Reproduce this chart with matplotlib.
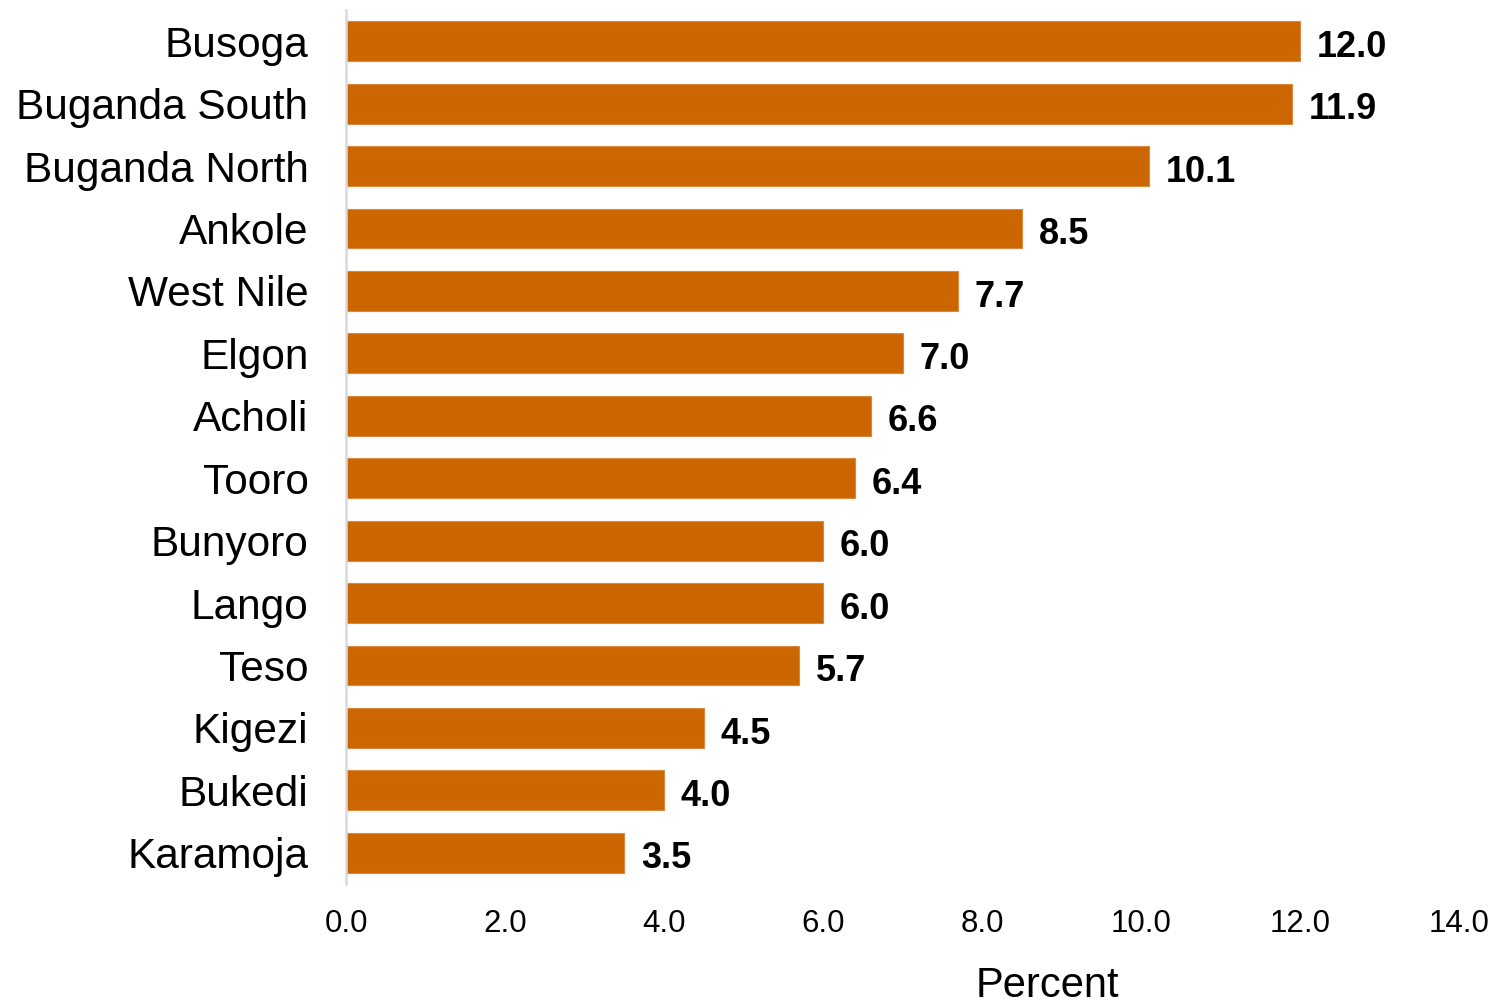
import matplotlib
matplotlib.use("Agg")
import matplotlib.pyplot as plt
import numpy as np

plt.rcParams['font.family'] = ['Liberation Sans', 'DejaVu Sans']

regions = ['Busoga', 'Buganda South', 'Buganda North', 'Ankole', 'West Nile',
           'Elgon', 'Acholi', 'Tooro', 'Bunyoro', 'Lango', 'Teso', 'Kigezi',
           'Bukedi', 'Karamoja']
values = [12.0, 11.9, 10.1, 8.5, 7.7, 7.0, 6.6, 6.4, 6.0, 6.0, 5.7, 4.5, 4.0, 3.5]
xticks = [0, 2, 4, 6, 8, 10, 12, 14]

fig = plt.figure(figsize=(14.94, 10.06), dpi=100)
ax = fig.add_axes([346/1494, 1 - 884/1006, 1113/1494, 874/1006])

y = np.arange(len(regions))
ax.barh(y, values, height=0.64, color='#CC6600', edgecolor='#D98A3F', linewidth=0.8)

for yi, v in zip(y, values):
    ax.annotate(f'{v:.1f}', (v, yi), xytext=(12, -1.5), textcoords='offset points',
                va='center_baseline', ha='left', fontsize=26, fontweight='bold')

ax.set_ylim(len(regions) - 0.5, -0.5)
ax.set_xlim(0, 14)
ax.set_yticks(y)
ax.set_yticklabels(regions, fontsize=30.5, va='center_baseline')
ax.set_xticks(xticks)
ax.set_xticklabels([f'{t:.1f}' for t in xticks], fontsize=22.5)
ax.tick_params(axis='y', length=0, pad=27)
ax.tick_params(axis='x', length=0, pad=18)

for s in ['top', 'right', 'bottom']:
    ax.spines[s].set_visible(False)
ax.spines['left'].set_color('#D9D9D9')
ax.spines['left'].set_linewidth(1.8)

fig.text(1047/1494, 0.009, 'Percent', ha='center', va='baseline', fontsize=30)

fig.savefig('out.png', dpi=100)
